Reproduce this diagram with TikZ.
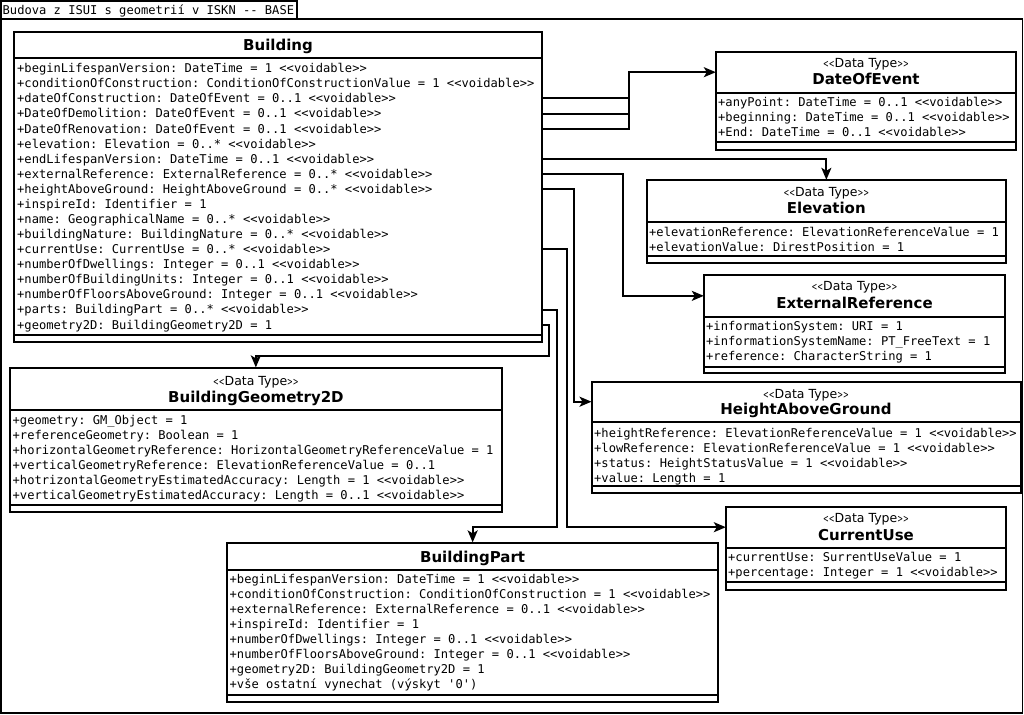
\documentclass[tikz,border=0pt]{standalone}
\usepackage{fontspec}
\usepackage{graphicx}
\setmainfont{DejaVu Sans}
\setmonofont{DejaVu Sans Mono}
\usetikzlibrary{arrows.meta,fit}
\tikzset{
  box/.style={draw, line width=1.8pt, inner sep=0pt},
  hd/.style={inner sep=0pt},
  sepl/.style={line width=1.8pt},
  frm/.style={draw, line width=1.5pt},
  attr/.style={anchor=west, inner sep=0pt, font=\ttfamily\fontsize{12.1}{14}\selectfont, text height=8.8pt, text depth=0pt},
  ttl/.style={inner sep=0pt, font=\bfseries\fontsize{15}{18}\selectfont, text height=10.9pt, text depth=0pt},
  ster/.style={inner sep=0pt, font=\fontsize{12.5}{14}\selectfont, text height=9.1pt, text depth=0pt},
  conn/.style={line width=2pt},
  arr/.style={conn, -{Stealth[length=12pt,width=10pt,inset=3pt]}},
}
\newcommand\umlst{\scalebox{0.55}[0.85]{<\kern0pt<}Data Type\scalebox{0.55}[0.85]{>\kern0pt>}}
% name, x1, y1, x2, sep1, sep2, y2
\newcommand\umlcls[7]{%
  \node[box, fit={(#2,#3) (#4,#7)}] (#1) {};
  \node[hd, fit={(#2,#3) (#4,#5)}] (#1H) {};
  \draw[sepl] (#2,#5) -- (#4,#5);
  \draw[sepl] (#2,#6) -- (#4,#6);
}
% prefix, x, y0, list
\newcommand\umlrows[4]{%
  \foreach \t [count=\i from 0] in {#4} {\node[attr] (#1\i) at (#2,{#3+15.08*\i}) {\t};}
}
\begin{document}
\begin{tikzpicture}[x=1pt,y=-1pt]
\useasboundingbox (0,0) rectangle (1024,714);
\fill[white] (0,0) rectangle (1024,714);

% frame
\node[frm, inner sep=0pt, fit={(1,1) (297,19)}] (tab) {};
\node[attr] (tabtxt) at (2.5,10) {Budova z ISUI s geometrií v ISKN -- BASE};
\draw[line width=1.5pt] (1,19) rectangle (1022.5,712.8);

% Building
\umlcls{B}{14}{32}{542}{58}{335}{342}
\node[ttl] (Bt) at (278,45.5) {Building};
\umlrows{b}{17}{68.3}{%
+beginLifespanVersion: DateTime = 1 <<voidable>>,
+conditionOfConstruction: ConditionOfConstructionValue = 1 <<voidable>>,
+dateOfConstruction: DateOfEvent = 0..1 <<voidable>>,
+DateOfDemolition: DateOfEvent = 0..1 <<voidable>>,
+DateOfRenovation: DateOfEvent = 0..1 <<voidable>>,
+elevation: Elevation = 0..* <<voidable>>,
+endLifespanVersion: DateTime = 0..1 <<voidable>>,
+externalReference: ExternalReference = 0..* <<voidable>>,
+heightAboveGround: HeightAboveGround = 0..* <<voidable>>,
+inspireId: Identifier = 1,
+name: GeographicalName = 0..* <<voidable>>,
+buildingNature: BuildingNature = 0..* <<voidable>>,
+currentUse: CurrentUse = 0..* <<voidable>>,
+numberOfDwellings: Integer = 0..1 <<voidable>>,
+numberOfBuildingUnits: Integer = 0..1 <<voidable>>,
+numberOfFloorsAboveGround: Integer = 0..1 <<voidable>>,
+parts: BuildingPart = 0..* <<voidable>>,
+geometry2D: BuildingGeometry2D = 1}

% DateOfEvent
\umlcls{doe}{716}{51.7}{1016}{92.7}{141.7}{150}
\node[ster] (doeS) at (866,62.7) {\umlst};
\node[ttl] (doeT) at (866,79.3) {DateOfEvent};
\umlrows{doe}{718}{102.3}{%
+anyPoint: DateTime = 0..1 <<voidable>>,
+beginning: DateTime = 0..1 <<voidable>>,
+End: DateTime = 0..1 <<voidable>>}

% Elevation
\umlcls{elv}{646.7}{180}{1006}{222.3}{256}{263.3}
\node[ster] (elvS) at (826.3,191.7) {\umlst};
\node[ttl] (elvT) at (826.3,207.7) {Elevation};
\umlrows{elv}{649}{231.7}{%
+elevationReference: ElevationReferenceValue = 1,
+elevationValue: DirestPosition = 1}

% ExternalReference
\umlcls{ext}{704}{275}{1005}{316.7}{366.7}{373.3}
\node[ster] (extS) at (854.5,285.5) {\umlst};
\node[ttl] (extT) at (854.5,303.3) {ExternalReference};
\umlrows{ext}{706}{326}{%
+informationSystem: URI = 1,
+informationSystemName: PT\_FreeText = 1,
+reference: CharacterString = 1}

% HeightAboveGround
\umlcls{hag}{591.7}{381.7}{1021}{421.7}{486}{493}
\node[ster] (hagS) at (806,394) {\umlst};
\node[ttl] (hagT) at (806,409.3) {HeightAboveGround};
\umlrows{hag}{594}{432.7}{%
+heightReference: ElevationReferenceValue = 1 <<voidable>>,
+lowReference: ElevationReferenceValue = 1 <<voidable>>,
+status: HeightStatusValue = 1 <<voidable>>,
+value: Length = 1}

% CurrentUse
\umlcls{cu}{726}{506.7}{1006}{547.7}{582.3}{590}
\node[ster] (cuS) at (866,518.3) {\umlst};
\node[ttl] (cuT) at (866,535) {CurrentUse};
\umlrows{cu}{728}{557.3}{%
+currentUse: SurrentUseValue = 1,
+percentage: Integer = 1 <<voidable>>}

% BuildingGeometry2D
\umlcls{bg}{10}{368.3}{501.7}{410}{505}{512.3}
\node[ster] (bgS) at (255.9,380.7) {\umlst};
\node[ttl] (bgT) at (255.9,396.7) {BuildingGeometry2D};
\umlrows{bg}{12.5}{420}{%
+geometry: GM\_Object = 1,
+referenceGeometry: Boolean = 1,
+horizontalGeometryReference: HorizontalGeometryReferenceValue = 1,
+verticalGeometryReference: ElevationReferenceValue = 0..1,
+hotrizontalGeometryEstimatedAccuracy: Length = 1 <<voidable>>,
+verticalGeometryEstimatedAccuracy: Length = 0..1 <<voidable>>}

% BuildingPart
\umlcls{bp}{227}{543.3}{718.3}{570}{695}{701.7}
\node[ttl] (bpT) at (472.6,556.7) {BuildingPart};
\umlrows{bp}{229.5}{579}{%
+beginLifespanVersion: DateTime = 1 <<voidable>>,
+conditionOfConstruction: ConditionOfConstruction = 1 <<voidable>>,
+externalReference: ExternalReference = 0..1 <<voidable>>,
+inspireId: Identifier = 1,
+numberOfDwellings: Integer = 0..1 <<voidable>>,
+numberOfFloorsAboveGround: Integer = 0..1 <<voidable>>,
+geometry2D: BuildingGeometry2D = 1,
+vše ostatní vynechat (výskyt '0')}

% bend coordinates
\coordinate (j1) at (629,0);
\coordinate (j2) at (623,0);
\coordinate (j3) at (574,0);
\coordinate (j4) at (566.5,0);
\coordinate (j5) at (557,527.2);
\coordinate (j6) at (548.5,355.5);

% connectors
\draw[conn] (B.east |- b2) -- (j1 |- b2);
\draw[conn] (B.east |- b3) -- (j1 |- b3);
\draw[arr] (B.east |- b4) -| (j1 |- doeH) -- (doeH.west);
\draw[arr] (B.east |- b6) -| (elvH.north);
\draw[arr] (B.east |- b7) -| (j2 |- extH) -- (extH.west);
\draw[arr] (B.east |- b8) -| (j3 |- hagH) -- (hagH.west);
\draw[arr] (B.east |- b12) -| (j4 |- cuH) -- (cuH.west);
\draw[arr] (B.east |- b16) -| (j5) -| (bp.north);
\draw[arr] (B.east |- b17) -| (j6) -| (bg.north);
\end{tikzpicture}
\end{document}
